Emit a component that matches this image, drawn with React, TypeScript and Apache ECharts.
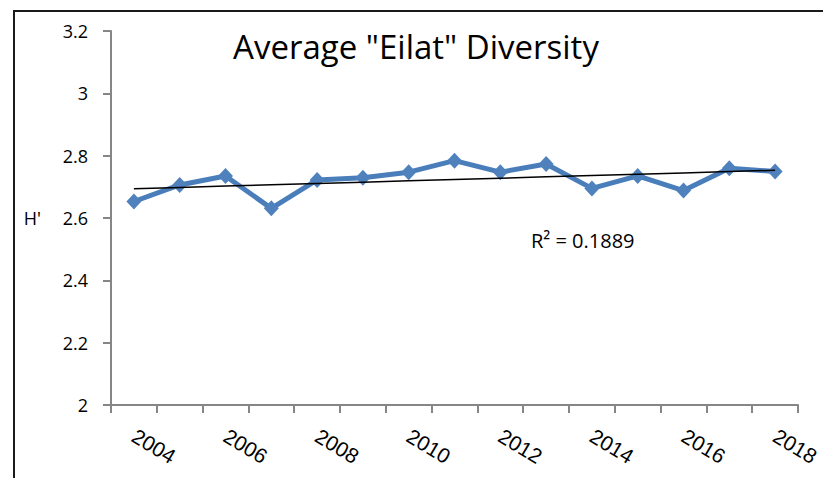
import React, { useEffect, useRef } from "react";
import * as echarts from "echarts";

const years = ["2004", "2005", "2006", "2007", "2008", "2009", "2010", "2011", "2012", "2013", "2014", "2015", "2016", "2017", "2018"];
const diversity = [2.653, 2.706, 2.735, 2.631, 2.722, 2.729, 2.747, 2.784, 2.747, 2.773, 2.695, 2.735, 2.688, 2.760, 2.749];
const yTicks = { min: 2, max: 3.2, step: 0.2 };
const titleText = 'Average "Eilat" Diversity';
const yName = "H'";
const r2Text = "R\u00B2 = 0.1889";

function linearFit(values: number[]): number[] {
  const n = values.length;
  const xs = values.map((_, i) => i + 1);
  const mx = xs.reduce((a, b) => a + b, 0) / n;
  const my = values.reduce((a, b) => a + b, 0) / n;
  let sxy = 0;
  let sxx = 0;
  for (let i = 0; i < n; i++) {
    sxy += (xs[i] - mx) * (values[i] - my);
    sxx += (xs[i] - mx) * (xs[i] - mx);
  }
  const slope = sxy / sxx;
  return xs.map((x) => +(my + slope * (x - mx)).toFixed(4));
}

export default function App() {
  const ref = useRef<HTMLDivElement>(null);
  useEffect(() => {
    if (!ref.current) return;
    const chart = echarts.init(ref.current, null, { renderer: "svg" });
    const axisColor = "#868686";
    chart.setOption({
      animation: false,
      backgroundColor: "#ffffff",
      grid: { left: 111, right: 25, top: 31, bottom: 73, outerBoundsMode: "none" },
      xAxis: {
        type: "category",
        data: years,
        boundaryGap: true,
        axisLine: { lineStyle: { color: axisColor, width: 2 } },
        axisTick: { show: true, interval: 0, length: 8, lineStyle: { color: axisColor, width: 2 } },
        axisLabel: {
          interval: 1,
          rotate: -31,
          margin: 29,
          fontFamily: "Liberation Sans, Arial, sans-serif",
          fontSize: 21,
          color: "#000",
        },
        splitLine: { show: false },
      },
      yAxis: {
        type: "value",
        min: yTicks.min,
        max: yTicks.max,
        interval: yTicks.step,
        name: yName,
        nameLocation: "middle",
        nameRotate: 0,
        nameGap: 70,
        nameTextStyle: { fontFamily: "Open Sans", fontSize: 18, color: "#000" },
        axisLine: { show: true, lineStyle: { color: axisColor, width: 2 } },
        axisTick: { show: true, length: 8, lineStyle: { color: axisColor, width: 2 } },
        axisLabel: {
          margin: 23,
          fontFamily: "Open Sans",
          fontSize: 18,
          color: "#000",
          formatter: (v: number) => String(+v.toFixed(1)),
        },
        splitLine: { show: false },
      },
      series: [
        {
          type: "line",
          data: diversity,
          symbol: "diamond",
          symbolSize: [15, 16],
          lineStyle: { color: "#4a7ebb", width: 5 },
          itemStyle: { color: "#4f81bd" },
          z: 2,
        },
        {
          type: "line",
          data: linearFit(diversity),
          symbol: "none",
          lineStyle: { color: "#000", width: 1.5 },
          z: 3,
        },
      ],
      graphic: [
        { type: "line", shape: { x1: 14, y1: 11, x2: 14, y2: 478 }, style: { stroke: "#1a1a1a", lineWidth: 2 } },
        { type: "line", shape: { x1: 13, y1: 11, x2: 823, y2: 11 }, style: { stroke: "#1a1a1a", lineWidth: 2 } },
        {
          type: "text",
          x: 416,
          y: 46,
          style: {
            text: titleText,
            fontFamily: "Open Sans",
            fontSize: 33,
            fill: "#000",
            textAlign: "center",
            textVerticalAlign: "middle",
          },
        },
        {
          type: "text",
          x: 531,
          y: 240,
          style: {
            text: r2Text,
            fontFamily: "Open Sans",
            fontSize: 20,
            fill: "#000",
            textAlign: "left",
            textVerticalAlign: "middle",
          },
        },
      ],
    });
    return () => chart.dispose();
  }, []);
  return (
    <div
      ref={ref}
      style={{ position: "fixed", left: 0, top: 0, width: 823, height: 478, background: "#fff" }}
    />
  );
}
